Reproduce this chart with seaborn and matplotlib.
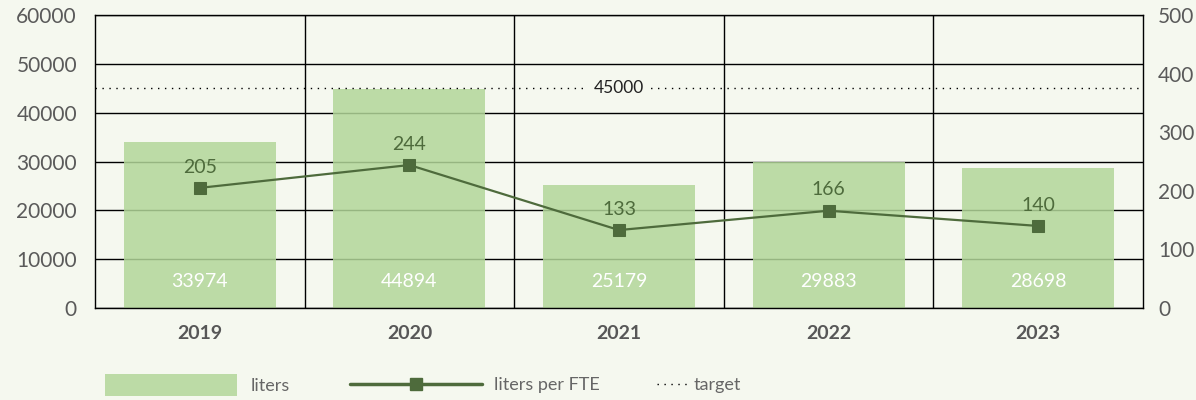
import numpy as np
import matplotlib
matplotlib.use('Agg')
import matplotlib.pyplot as plt
from matplotlib.lines import Line2D
from matplotlib.patches import Patch
import seaborn as sns

# data
years = ['2019', '2020', '2021', '2022', '2023']
liters = [33974, 44894, 25179, 29883, 28698]
liters_per_fte = [205, 244, 133, 166, 140]
target = 45000

bg = '#f5f8ef'
bar_col = '#b2d699'
line_col = '#4e6b3c'

sns.set_theme(style='white')
plt.rcParams['font.family'] = ['Lato', 'DejaVu Sans']

fig = plt.figure(figsize=(11.96, 4), dpi=100, facecolor=bg)
ax = fig.add_axes([95 / 1196, 92 / 400, 1048 / 1196, 293 / 400])
ax.set_facecolor(bg)

# bars
sns.barplot(x=years, y=liters, color=bar_col, saturation=1, alpha=0.85,
            width=0.725, edgecolor='none', linewidth=0, ax=ax, zorder=2)
ax.set_xlim(-0.5, len(years) - 0.5)
ax.set_ylim(0, 60000)
ax.set_yticks(np.arange(0, 60001, 10000))
ax.set_xticks(np.arange(0.5, len(years) - 0.5), minor=True)
ax.set_axisbelow(True)
ax.grid(True, which='major', axis='y', color='black', lw=1)
ax.grid(True, which='minor', axis='x', color='black', lw=1)
ax.grid(False, which='major', axis='x')
for s in ax.spines.values():
    s.set_color('black')
    s.set_linewidth(1)
ax.tick_params(axis='y', length=0, pad=13, labelsize=15, labelcolor='#5a5a5a')
ax.tick_params(axis='x', which='both', length=0, pad=12, labelsize=14,
               labelcolor='#575757')
for lab in ax.get_xticklabels():
    lab.set_fontweight('bold')
ax.set_xlabel('')
ax.set_ylabel('')

# bar values
for i, v in enumerate(liters):
    ax.annotate(str(v), (i, 0), xytext=(0, 19), textcoords='offset points',
                ha='center', va='center', color='white', fontsize=14, zorder=4)

# target line
ax.axhline(target, color='black', lw=1, ls=(0, (1, 4)), zorder=3)
ax.text(2, target, str(target), ha='center', va='center', fontsize=12.5,
        color='#222222', zorder=4,
        bbox=dict(facecolor=bg, edgecolor='none', pad=5))

# secondary axis
ax2 = ax.twinx()
sns.lineplot(x=np.arange(len(years)), y=liters_per_fte, ax=ax2, color=line_col,
             lw=1.6, marker='s', markersize=9, markeredgecolor=line_col,
             markerfacecolor=line_col, zorder=5)
ax2.set_ylim(0, 500)
ax2.set_yticks(np.arange(0, 501, 100))
ax2.set_ylabel('')
ax2.grid(False)
for s in ax2.spines.values():
    s.set_visible(False)
ax2.tick_params(axis='y', length=0, pad=11, labelsize=15, labelcolor='#5a5a5a')
for i, v in enumerate(liters_per_fte):
    ax2.annotate(str(v), (i, v), xytext=(0, 15), textcoords='offset points',
                 ha='center', va='center', color=line_col, fontsize=14)

# legends
leg_kw = dict(frameon=False, borderpad=0, borderaxespad=0, fontsize=13,
              labelcolor='#666666', loc='center left')
fig.legend(handles=[Patch(facecolor=bar_col, alpha=0.85, edgecolor='none', label='liters')],
           bbox_to_anchor=(105 / 1196, 15 / 400), handlelength=7.3,
           handleheight=1.5, handletextpad=0.75, **leg_kw)
fig.legend(handles=[Line2D([], [], color=line_col, lw=2.5, marker='s', markersize=9,
                           label='liters per FTE')],
           bbox_to_anchor=(350 / 1196, 15 / 400), handlelength=7.3,
           handletextpad=0.65, **leg_kw)
fig.legend(handles=[Line2D([], [], color='black', lw=1, ls=(0, (1, 4)), label='target')],
           bbox_to_anchor=(657 / 1196, 15 / 400), handlelength=1.8,
           handletextpad=0.2, **leg_kw)

fig.savefig('out.png', dpi=100, facecolor=bg)
